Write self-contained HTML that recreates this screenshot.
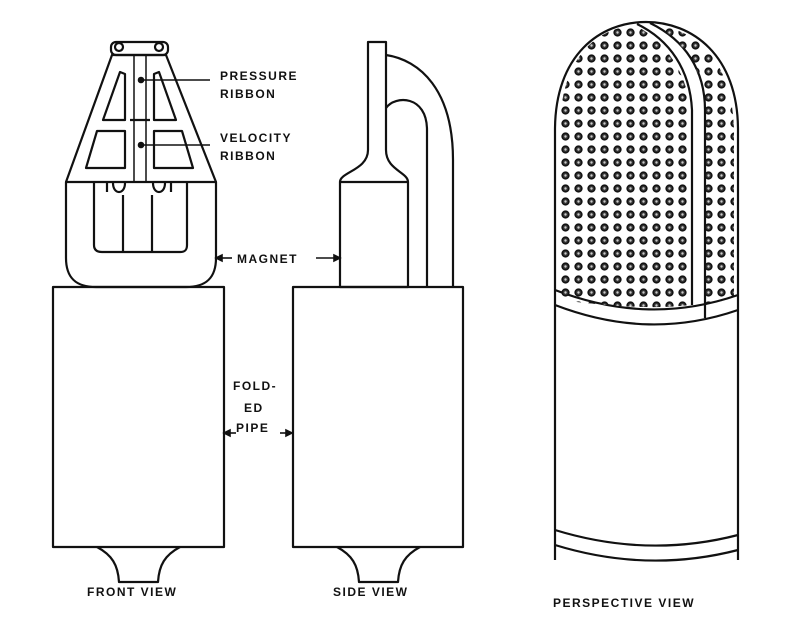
<!DOCTYPE html>
<html><head><style>
html,body{margin:0;padding:0;background:#fff;}
svg{display:block;}
text{font-family:"Liberation Sans",sans-serif;font-weight:bold;font-size:12px;fill:#111;letter-spacing:1.5px;}
</style></head><body>
<svg width="800" height="639" viewBox="0 0 800 639" xmlns="http://www.w3.org/2000/svg">
<defs>
<pattern id="dots" x="0" y="0" width="13" height="13" patternUnits="userSpaceOnUse">
<circle cx="6.5" cy="6.5" r="3.4" fill="#333" stroke="#111" stroke-width="1.5"/>
<circle cx="6.5" cy="6.5" r="1.2" fill="#ccc"/>
</pattern>
<clipPath id="cl"><path d="M560,300 L560,130 C560,55 600,26 636,26 C665,40 688,75 690,110 L690,305 C650,310 600,305 560,300 Z"/></clipPath>
<clipPath id="cr"><path d="M655,25 C700,30 733,65 734,130 L734,300 L706,303 L706,110 C704,80 690,45 655,25 Z"/></clipPath>
</defs>
<g fill="none" stroke="#111" stroke-width="2.2" stroke-linejoin="round">
<rect x="53" y="287" width="171" height="260"/>
<path d="M97,547 C112,555 118,565 119,582 L158,582 C159,565 165,555 180,547"/>
<path d="M66,182 L66,258 C66,278 76,287 96,287 L186,287 C206,287 216,278 216,258 L216,182 Z"/>
<path d="M94,183 L94,245 C94,250 97,252 102,252 L180,252 C185,252 187,250 187,245 L187,183"/>
<line x1="123" y1="195" x2="123" y2="252"/><line x1="152" y1="195" x2="152" y2="252"/>
<path d="M66,182 L112,55 L166,55 L216,182"/>
<rect x="111" y="42" width="57" height="13" rx="5"/>
<circle cx="119" cy="47" r="4"/><circle cx="159" cy="47" r="4"/>
<rect x="134" y="55" width="12" height="127" stroke-width="1.5"/>
<line x1="130" y1="120" x2="150" y2="120"/>
<path d="M103,120 L120,72 L125,74 L125,120 Z"/>
<path d="M176,120 L159,72 L154,74 L154,120 Z"/>
<path d="M86,168 L97,131 L125,131 L125,168 Z"/>
<path d="M193,168 L182,131 L154,131 L154,168 Z"/>
<path d="M107,183 L107,192 M113,183 C113,195 125,195 125,183 M153,183 C153,195 165,195 165,183 M171,183 L171,192"/>
<rect x="293" y="287" width="170" height="260"/>
<path d="M337,547 C352,555 358,565 359,582 L398,582 C399,565 405,555 420,547"/>
<rect x="340" y="182" width="68" height="105"/>
<path d="M340,182 C340,172 368,170 368,150 L368,42 L386,42 L386,150 C386,170 408,172 408,182"/>
<path d="M386,55 C420,60 453,90 453,160 L453,287"/>
<path d="M386,108 C395,95 427,95 427,130 L427,287"/>
<path d="M555,560 L555,130 C555,55 600,22 646,22 C692,22 738,55 738,130 L738,560"/>
<path d="M555,290 C620,315 680,315 738,295 M555,305 C620,330 680,330 738,310"/>
<path d="M555,530 C620,550 680,550 738,535 M555,545 C620,565 680,565 738,550"/>
<path d="M637,24 C670,40 690,70 692,110 L692,305 M650,23 C685,40 705,70 705,110 L705,318"/>
</g>
<rect x="550" y="20" width="200" height="290" fill="url(#dots)" clip-path="url(#cl)"/>
<rect x="550" y="20" width="200" height="290" fill="url(#dots)" clip-path="url(#cr)"/>
<g stroke="#111" stroke-width="1.6" fill="#111">
<line x1="140" y1="80" x2="210" y2="80"/><circle cx="141" cy="80" r="2.5"/>
<line x1="140" y1="145" x2="210" y2="145"/><circle cx="141" cy="145" r="2.5"/>
<line x1="218" y1="258" x2="232" y2="258"/><path d="M216,258 L222,255 L222,261 Z"/>
<line x1="316" y1="258" x2="338" y2="258"/><path d="M340,258 L334,255 L334,261 Z"/>
<line x1="226" y1="433" x2="236" y2="433"/><path d="M224,433 L230,430 L230,436 Z"/>
<line x1="280" y1="433" x2="290" y2="433"/><path d="M292,433 L286,430 L286,436 Z"/>
</g>
<text x="220" y="80">PRESSURE</text><text x="220" y="98">RIBBON</text>
<text x="220" y="142">VELOCITY</text><text x="220" y="160">RIBBON</text>
<text x="237" y="263">MAGNET</text>
<text x="233" y="390">FOLD-</text><text x="244" y="412">ED</text><text x="236" y="432">PIPE</text>
<text x="87" y="596">FRONT VIEW</text>
<text x="333" y="596">SIDE VIEW</text>
<text x="553" y="607">PERSPECTIVE VIEW</text>
</svg>
</body></html>
